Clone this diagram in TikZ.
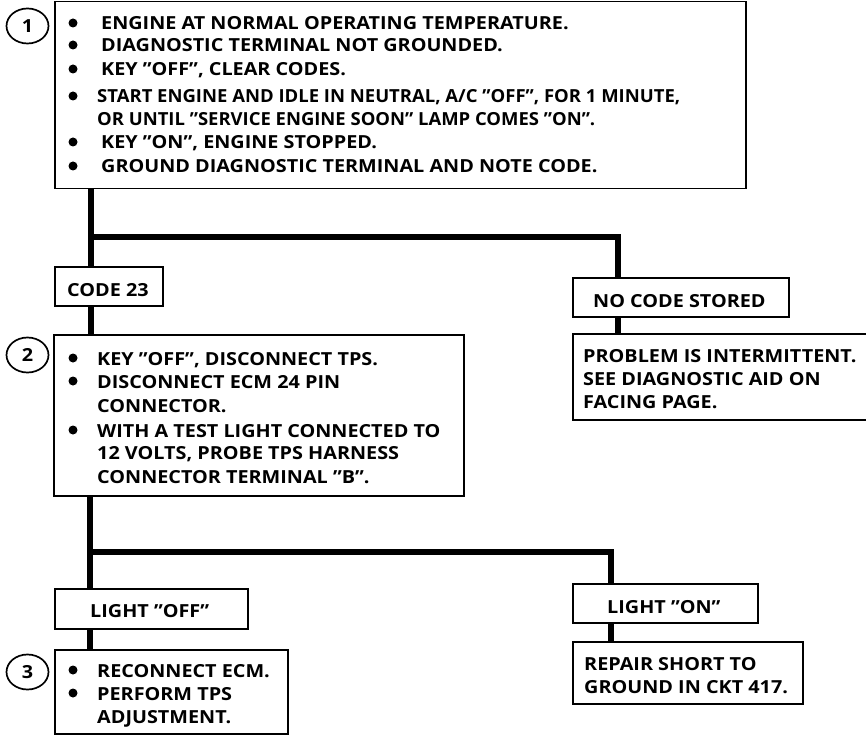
\documentclass[tikz,border=0pt]{standalone}
\usepackage{fontspec}
\setmainfont{Open Sans}
\usepackage{graphicx}
\usetikzlibrary{shapes.geometric}
\begin{document}
\begin{tikzpicture}[x=1pt,y=-1pt,
  box/.style={draw, line width=1.5pt, inner sep=0, anchor=north west},
  conn/.style={line width=6.5pt, line join=miter},
  txt/.style={inner sep=0, anchor=base west, font=\fontsize{18}{22}\selectfont\bfseries\addfontfeature{FakeStretch=1.1}},
  bul/.style={circle, fill, inner sep=0, minimum size=9pt},
  num/.style={ellipse, draw, line width=1.7pt, minimum width=42pt, minimum height=35pt, inner sep=0, font=\fontsize{18}{20}\selectfont\bfseries\addfontfeature{FakeStretch=1.1}}]
\useasboundingbox (0,0) rectangle (866,735);

% boxes
\node[box, minimum width=691pt, minimum height=187pt] (b1) at (54,1) {};
\node[box, minimum width=108pt, minimum height=39pt] (c23) at (54,266) {};
\node[box, minimum width=410pt, minimum height=161pt] (b2) at (53,334) {};
\node[box, minimum width=193pt, minimum height=40pt] (loff) at (54,588) {};
\node[box, minimum width=233pt, minimum height=84pt] (b3) at (54,649) {};
\node[box, minimum width=216pt, minimum height=39pt] (nc) at (572,277) {};
\node[box, minimum width=310pt, minimum height=86pt] (prob) at (572,333) {};
\node[box, minimum width=185pt, minimum height=39pt] (lon) at (572,583) {};
\node[box, minimum width=230pt, minimum height=62pt] (rep) at (572,641) {};

% step numbers
\node[num] (n1) at (27.5,26) {1};
\node[num] (n2) at (27.5,355) {2};
\node[num] (n3) at (27.5,672) {3};

% connectors
\coordinate (j1) at (91,237);
\coordinate (k1) at (618,237);
\coordinate (j2) at (90,552);
\coordinate (k2) at (611,552);
\draw[conn] (b1.south -| j1) -- (c23.north -| j1);
\draw[conn] (j1) -- (k1) -- (k1 |- nc.north);
\draw[conn] (c23.south -| j1) -- (b2.north -| j1);
\draw[conn] (nc.south -| k1) -- (prob.north -| k1);
\draw[conn] (b2.south -| j2) -- (loff.north -| j2);
\draw[conn] (j2) -- (k2) -- (k2 |- lon.north);
\draw[conn] (loff.south -| j2) -- (b3.north -| j2);
\draw[conn] (lon.south -| k2) -- (rep.north -| k2);

% box 1 text
\foreach \y/\n in {30/a,52/b,76/c,103/d,149/f,173/g} \node[bul] (p1\n) at (73,\y-7) {};
\node[txt] (t1a) at (101,30) {ENGINE AT NORMAL OPERATING TEMPERATURE.};
\node[txt] (t1b) at (101,52) {DIAGNOSTIC TERMINAL NOT GROUNDED.};
\node[txt] (t1c) at (101,76) {KEY "OFF", CLEAR CODES.};
\node[txt] (t1d) at (97,103) {\resizebox{583pt}{\height}{START ENGINE AND IDLE IN NEUTRAL, A/C "OFF", FOR 1 MINUTE,}};
\node[txt] (t1e) at (97,126) {\resizebox{498pt}{\height}{OR UNTIL "SERVICE ENGINE SOON" LAMP COMES "ON".}};
\node[txt] (t1f) at (101,149) {KEY "ON", ENGINE STOPPED.};
\node[txt] (t1g) at (101,173) {GROUND DIAGNOSTIC TERMINAL AND NOTE CODE.};

\node[txt] (t23) at (67,296) {CODE 23};

% box 2 text
\foreach \y/\n in {365/a,388/b,437/d} \node[bul] (p2\n) at (73,\y-7) {};
\node[txt] (t2a) at (97,365) {KEY "OFF", DISCONNECT TPS.};
\node[txt] (t2b) at (97,388) {DISCONNECT ECM 24 PIN};
\node[txt] (t2c) at (97,412) {CONNECTOR.};
\node[txt] (t2d) at (97,437) {WITH A TEST LIGHT CONNECTED TO};
\node[txt] (t2e) at (97,459) {12 VOLTS, PROBE TPS HARNESS};
\node[txt] (t2f) at (97,483) {CONNECTOR TERMINAL "B".};

\node[txt] (toff) at (90,617) {LIGHT "OFF"};

% box 3 text
\foreach \y/\n in {677/a,700/b} \node[bul] (p3\n) at (73,\y-7) {};
\node[txt] (t3a) at (97,677) {RECONNECT ECM.};
\node[txt] (t3b) at (97,700) {PERFORM TPS};
\node[txt] (t3c) at (97,723) {ADJUSTMENT.};

% right column
\node[txt] (tnc) at (593,307) {NO CODE STORED};
\node[txt] (tpa) at (583,362) {PROBLEM IS INTERMITTENT.};
\node[txt] (tpb) at (583,385) {SEE DIAGNOSTIC AID ON};
\node[txt] (tpc) at (583,408) {FACING PAGE.};
\node[txt] (ton) at (607,613) {LIGHT "ON"};
\node[txt] (tra) at (584,670) {REPAIR SHORT TO};
\node[txt] (trb) at (584,693) {GROUND IN CKT 417.};
\end{tikzpicture}
\end{document}
